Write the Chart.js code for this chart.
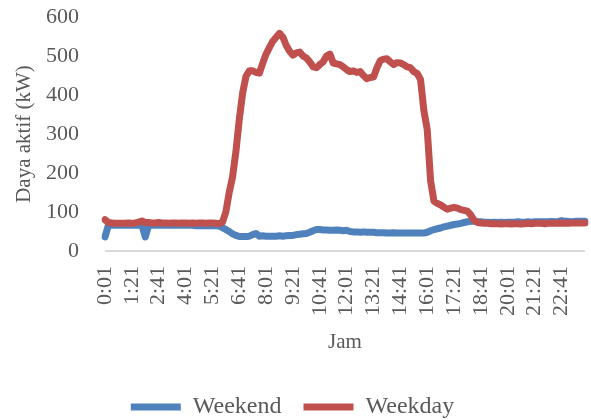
<!DOCTYPE html>
<html>
<head>
<meta charset="utf-8">
<script src="https://cdn.jsdelivr.net/npm/chart.js@4/dist/chart.umd.min.js"></script>
<style>
  html, body { margin: 0; padding: 0; background: #ffffff; }
  #wrap { width: 591px; height: 420px; position: relative; }
</style>
</head>
<body>
<div id="wrap"><canvas id="chart"></canvas></div>
<script>
// Sampling: one reading every 10 minutes, starting at 0:01
const startMinute = 1;
const stepMinutes = 10;
const sampleCount = 144;

// Hour labels printed under the axis (every 80 minutes)
const tickLabels = ['0:01', '1:21', '2:41', '4:01', '5:21', '6:41', '8:01', '9:21', '10:41',
  '12:01', '13:21', '14:41', '16:01', '17:21', '18:41', '20:01', '21:21', '22:41'];

// Category labels h:mm for each sample
const categories = [];
for (let i = 0; i < sampleCount; i++) {
  const m = startMinute + i * stepMinutes;
  const h = Math.floor(m / 60);
  const mm = m % 60;
  categories.push(h + ':' + (mm < 10 ? '0' : '') + mm);
}

// Active power, weekend days (kW)
const weekend = [
  36, 66, 66, 66, 66, 66, 66, 66, 66, 66, 66, 66, 36, 66, 66, 66,
  66, 66, 66, 66, 66, 66, 66, 66, 66, 66, 66, 65, 65, 65, 65, 65,
  65, 65, 64, 60, 55, 50, 44, 40, 37, 37, 37, 38, 42, 45, 38, 39,
  38, 38, 38, 38, 39, 38, 39, 40, 40, 42, 43, 44, 45, 48, 52, 55,
  55, 54, 54, 53, 53, 54, 53, 52, 53, 50, 49, 49, 48, 49, 48, 48,
  48, 47, 47, 47, 46, 46, 47, 46, 46, 46, 46, 46, 46, 46, 46, 46,
  48, 52, 55, 57, 59, 62, 64, 66, 68, 69, 71, 73, 75, 76, 77, 75,
  75, 74, 74, 73, 74, 73, 74, 73, 74, 74, 74, 75, 74, 74, 75, 74,
  75, 75, 75, 75, 75, 76, 75, 76, 78, 76, 76, 75, 76, 76, 76, 76
];

// Active power, weekdays (kW)
const weekday = [
  80, 73, 72, 71, 71, 71, 71, 72, 71, 72, 74, 77, 73, 73, 72, 72,
  73, 72, 72, 71, 72, 72, 71, 72, 72, 71, 72, 71, 72, 72, 71, 72,
  72, 71, 70, 74, 100, 150, 190, 255, 337, 405, 448, 462, 462, 458,
  456, 482, 505, 522, 538, 548, 558, 548, 527, 512, 502, 508, 510, 500,
  495, 485, 472, 470, 478, 485, 500, 505, 482, 480, 478, 472, 465, 460,
  462, 458, 460, 450, 442, 445, 446, 470, 488, 492, 493, 485, 478, 483,
  482, 478, 472, 470, 460, 455, 440, 360, 311, 180, 128, 122, 118, 112,
  107, 110, 112, 110, 106, 104, 102, 92, 78, 73, 72, 71, 71, 70,
  70, 70, 69, 70, 70, 69, 70, 70, 69, 70, 71, 70, 71, 71, 71, 70,
  71, 71, 71, 72, 71, 72, 71, 72, 72, 72, 72, 72
];

const yTicks = [0, 100, 200, 300, 400, 500, 600];

const textColor = '#595959';
const serif = "'Liberation Serif', 'Times New Roman', serif";

// Nudge the legend row a little lower than the default bottom placement
const legendShift = {
  id: 'legendShift',
  afterLayout(chart) {
    const lg = chart.legend;
    if (lg) { lg.top += 9; lg.bottom += 9; }
  }
};

new Chart(document.getElementById('chart'), {
  type: 'line',
  data: {
    labels: categories,
    datasets: [
      {
        label: 'Weekend',
        data: weekend,
        borderColor: '#4F81BD',
        backgroundColor: '#4F81BD',
        borderWidth: 7,
        borderCapStyle: 'round',
        borderJoinStyle: 'round',
        pointRadius: 0,
        tension: 0,
        order: 1
      },
      {
        label: 'Weekday',
        data: weekday,
        borderColor: '#C0504D',
        backgroundColor: '#C0504D',
        borderWidth: 7,
        borderCapStyle: 'round',
        borderJoinStyle: 'round',
        pointRadius: 0,
        tension: 0,
        order: 0
      }
    ]
  },
  plugins: [legendShift],
  options: {
    responsive: true,
    maintainAspectRatio: false,
    animation: false,
    layout: { padding: { top: 6, right: 6, bottom: 0, left: 0 } },
    plugins: {
      tooltip: { enabled: false },
      legend: {
        position: 'bottom',
        labels: {
          usePointStyle: true,
          pointStyle: 'line',
          pointStyleWidth: 50,
          boxHeight: 6,
          padding: 22,
          color: textColor,
          font: { family: serif, size: 24 },
          sort: (a, b) => a.datasetIndex - b.datasetIndex
        }
      }
    },
    scales: {
      x: {
        type: 'category',
        grid: { display: false, drawTicks: false },
        border: { display: false },
        ticks: {
          autoSkip: false,
          maxRotation: 90,
          minRotation: 90,
          padding: 15,
          color: textColor,
          font: { family: serif, size: 22 },
          callback: function (value, index) {
            const lab = categories[index];
            return tickLabels.includes(lab) ? lab : null;
          }
        },
        title: {
          display: true,
          text: 'Jam',
          color: textColor,
          font: { family: serif, size: 21 },
          padding: { top: 0, bottom: 9 }
        },
        afterFit: function (scale) {
          scale.height = 113;
          scale.paddingLeft = 0;
          scale.paddingRight = 0;
        }
      },
      y: {
        min: 0,
        max: 600,
        afterBuildTicks: function (scale) {
          scale.ticks = yTicks.map(v => ({ value: v }));
        },
        grid: {
          drawTicks: false,
          lineWidth: 2,
          color: ctx => (ctx.tick && ctx.tick.value === 0) ? '#D9D9D9' : 'rgba(0,0,0,0)'
        },
        border: { display: false },
        ticks: {
          padding: 26,
          color: textColor,
          font: { family: serif, size: 22 }
        },
        title: {
          display: true,
          text: 'Daya aktif (kW)',
          color: textColor,
          font: { family: serif, size: 21 },
          padding: { top: 12, bottom: 0 }
        },
        afterFit: function (scale) {
          scale.width = 105;
          scale.paddingTop = 17;
          scale.paddingBottom = 13;
        }
      }
    }
  }
});
</script>
</body>
</html>
